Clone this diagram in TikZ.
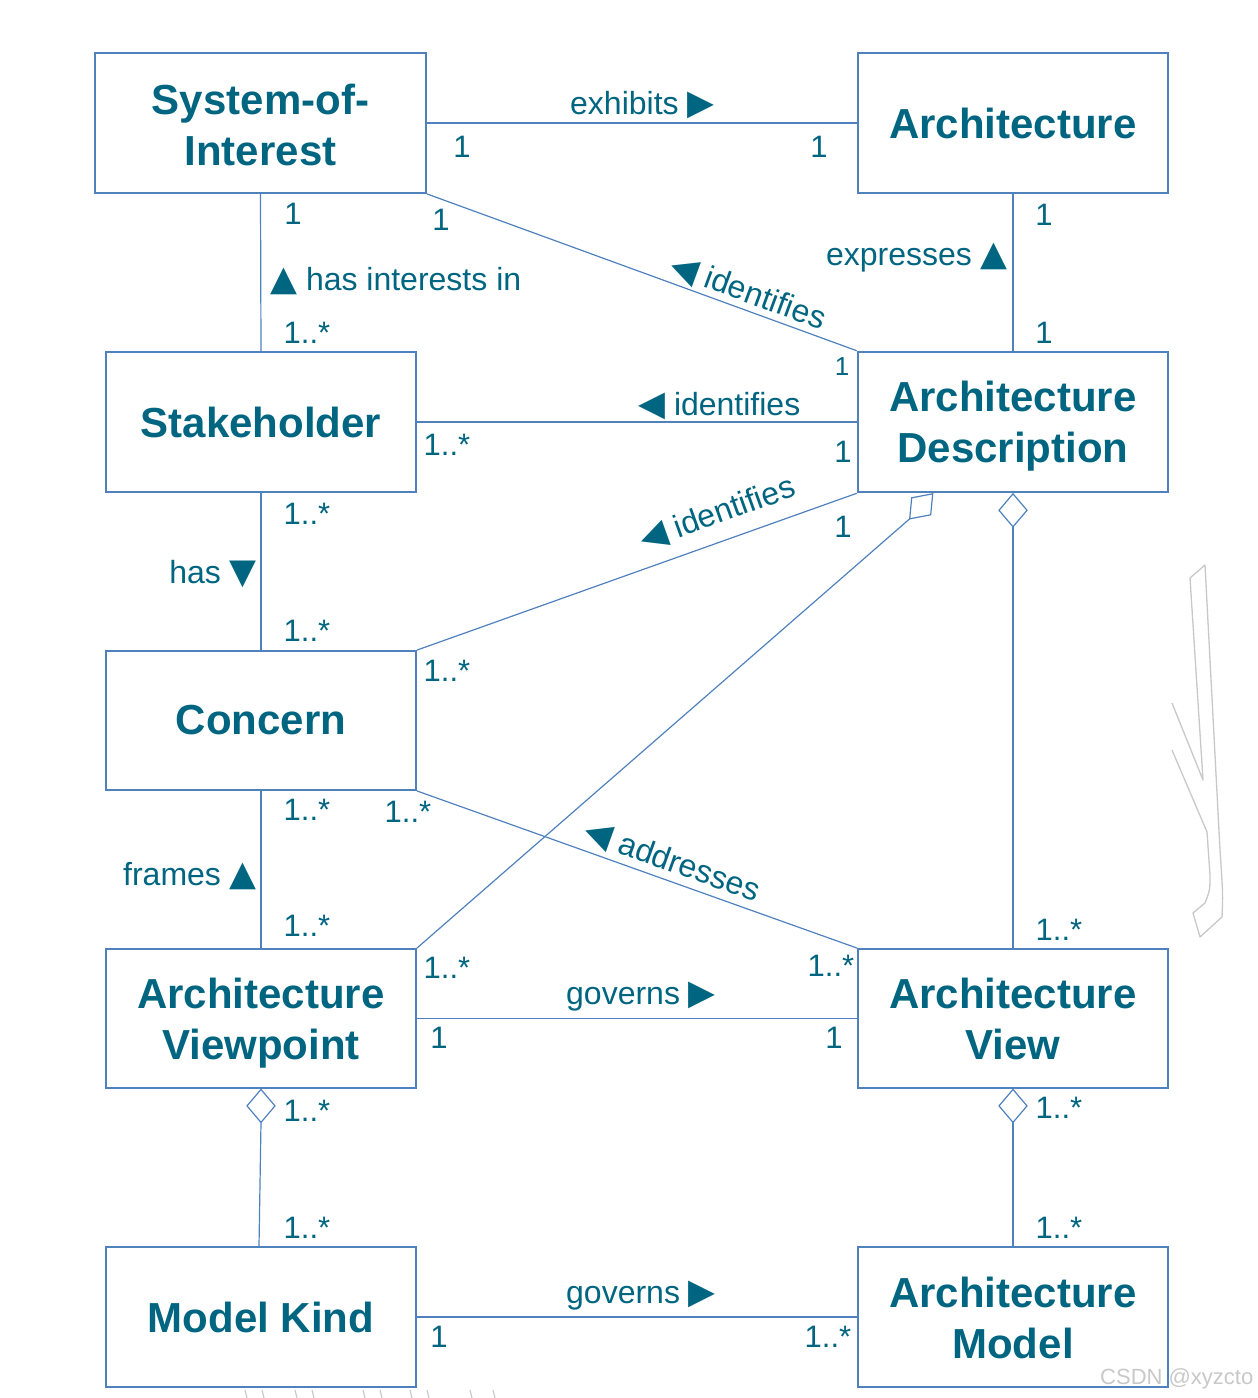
\documentclass[tikz,border=0pt]{standalone}
\usepackage{fontspec}
\setmainfont{Liberation Sans}
\newfontfamily\symf{DejaVu Sans}
\usetikzlibrary{calc}
\definecolor{tcol}{RGB}{0,101,128}
\definecolor{lcol}{RGB}{79,129,189}
\definecolor{wmcol}{RGB}{200,200,200}
\newcommand{\tri}[1]{{\fontsize{35}{35}\selectfont\symf #1}}
\begin{document}
\begin{tikzpicture}[x=1pt,y=-1pt,
  box/.style={draw=lcol, line width=1.8pt, rectangle, inner sep=0pt,
    minimum width=310pt, minimum height=140pt, text=tcol,
    font=\fontsize{42}{51}\selectfont\bfseries, align=center},
  lbl/.style={text=tcol, font=\fontsize{32}{36}\selectfont, inner sep=0pt},
  mult/.style={lbl, font=\fontsize{31}{36}\selectfont, anchor=center},
  conn/.style={draw=lcol, line width=1.2pt},
  dmd/.style={draw=lcol, line width=1.2pt, fill=white},
  wm/.style={draw=wmcol, line width=1.3pt}
]
\useasboundingbox (0,0) rectangle (1258,1398);

% boxes
\node[box, minimum width=331pt] (soi) at (260.5,123) {\rule{0pt}{35pt}System-of-\\Interest};
\node[box] (arch) at (1013,123) {Architecture};
\node[box] (sh) at (261,422) {Stakeholder};
\node[box, line width=2.6pt] (ad) at (1013,422) {Architecture\\Descri\smash{p}tion};
\node[box, minimum height=139pt] (con) at (261,720.5) {Concern};
\node[box, minimum height=139pt] (avp) at (261,1018.5) {Architecture\\View\smash{p}oint};
\node[box, minimum height=139pt] (av) at (1013,1018.5) {Architecture\\View};
\node[box] (mk) at (261,1317) {Model Kind};
\node[box] (am) at (1013,1317) {\rule{0pt}{33pt}Architecture\\Model};

% plain connectors
\draw[conn] (soi.east |- arch.west) -- (arch.west);
\draw[conn] (soi.south) -- (sh.north);
\draw[conn] (soi.south east) -- (ad.north west);
\draw[conn] (arch.south) -- (ad.north);
\draw[conn] (sh.east) -- (ad.west);
\draw[conn] (sh.south) -- (con.north);
\draw[conn] (con.north east) -- (ad.south west);
\draw[conn] (con.south) -- (avp.north);
\draw[conn] (con.south east) -- (av.north west);
\draw[conn] (avp.east) -- (av.west);
\draw[conn] (mk.east) -- (am.west);

% aggregation diamonds
\coordinate (d1t) at ($(ad.south)+(0,0.5)$);
\coordinate (d1b) at ($(d1t)+(0,33)$);
\draw[conn] (d1b) -- (av.north);
\draw[dmd] (d1t) -- ++(14,16.5) -- ++(-14,16.5) -- ++(-14,-16.5) -- cycle;

\coordinate (d2t) at ($(ad.south west)+(76,0.5)$);
\coordinate (d2b) at ($(d2t)+(-23,25)$);
\draw[conn] (d2b) -- (avp.north east);
\draw[dmd] (d2t) -- ++(-2,21) -- ++(-21,4) -- ++(2,-21) -- cycle;

\coordinate (d3t) at ($(avp.south)+(0,0.5)$);
\coordinate (d3b) at ($(d3t)+(0,33)$);
\draw[conn] (d3b) -- ($(mk.north)+(-2,0)$);
\draw[dmd] (d3t) -- ++(14,16.5) -- ++(-14,16.5) -- ++(-14,-16.5) -- cycle;

\coordinate (d4t) at ($(av.south)+(0,0.5)$);
\coordinate (d4b) at ($(d4t)+(0,33)$);
\draw[conn] (d4b) -- (am.north);
\draw[dmd] (d4t) -- ++(14,16.5) -- ++(-14,16.5) -- ++(-14,-16.5) -- cycle;

% association labels
\node[lbl, anchor=base west] (lexh) at (570,114) {exhibits \tri{▶}};
\node[lbl, anchor=base west] (lhas) at (270,290) {\tri{▲} has interests in};
\node[lbl, anchor=base east] (lexp) at (1008,265) {expresses \tri{▲}};
\node[lbl, anchor=base west] (lid2) at (638,415) {\tri{◀} identifies};
\node[lbl, anchor=base east] (lhs) at (257,583) {has \tri{▼}};
\node[lbl, anchor=base east] (lfr) at (257,885) {frames \tri{▲}};
\node[lbl, anchor=base west] (lgov1) at (566,1004) {governs \tri{▶}};
\node[lbl, anchor=base west] (lgov2) at (566,1303) {governs \tri{▶}};
\node[lbl, anchor=base, rotate=-20.2] (lid1) at (745,302) {\tri{◀} identifies};
\node[lbl, anchor=base, rotate=19.8] (lid3) at (721,523) {\tri{◀} identifies};
\node[lbl, anchor=base, rotate=-19.8] (ladr) at (669,871) {\tri{◀} addresses};

% multiplicities
\node[mult] (m1) at (462,147) {1};
\node[mult] (m2) at (819,147) {1};
\node[mult] (m3) at (293,214) {1};
\node[mult] (m4) at (441,220) {1};
\node[mult] (m5) at (307,333) {1..*};
\node[mult] (m6) at (1044,215) {1};
\node[mult] (m7) at (1044,333) {1};
\node[mult, font=\fontsize{26}{30}\selectfont] (m8) at (842,367) {1};
\node[mult] (m9) at (447,445) {1..*};
\node[mult] (m10) at (843,452) {1};
\node[mult] (m11) at (843,527) {1};
\node[mult] (m12) at (307,514) {1..*};
\node[mult] (m13) at (307,631) {1..*};
\node[mult] (m14) at (447,671) {1..*};
\node[mult] (m15) at (307,810) {1..*};
\node[mult] (m16) at (408,812) {1..*};
\node[mult] (m17) at (307,926) {1..*};
\node[mult] (m18) at (447,968) {1..*};
\node[mult] (m19) at (831,966) {1..*};
\node[mult] (m20) at (439,1038) {1};
\node[mult] (m21) at (834,1038) {1};
\node[mult] (m22) at (1059,930) {1..*};
\node[mult] (m23) at (307,1111) {1..*};
\node[mult] (m24) at (307,1228) {1..*};
\node[mult] (m25) at (1059,1108) {1..*};
\node[mult] (m26) at (1059,1228) {1..*};
\node[mult] (m27) at (439,1337) {1};
\node[mult] (m28) at (828,1337) {1..*};

% watermark remnants
\draw[wm, line join=round] (1172,703) -- (1203,780) -- (1190,578) -- (1205,565)
  -- (1220,850) .. controls (1223,895) .. (1222,917) -- (1200,937) -- (1193,913)
  -- (1205,903) .. controls (1210,890) .. (1210,875) -- (1207,832) -- (1172,750);
\foreach \xx in {245,262,295,312,363,380,410,427,470,493}
  \draw[wmcol, line width=1.2pt] (\xx,1390) -- (\xx+2,1398);
\node[anchor=base west, inner sep=0pt, text=wmcol, font=\fontsize{22}{26}\selectfont] (wmt) at (1100,1384) {CSDN @xyzcto};
\end{tikzpicture}
\end{document}
